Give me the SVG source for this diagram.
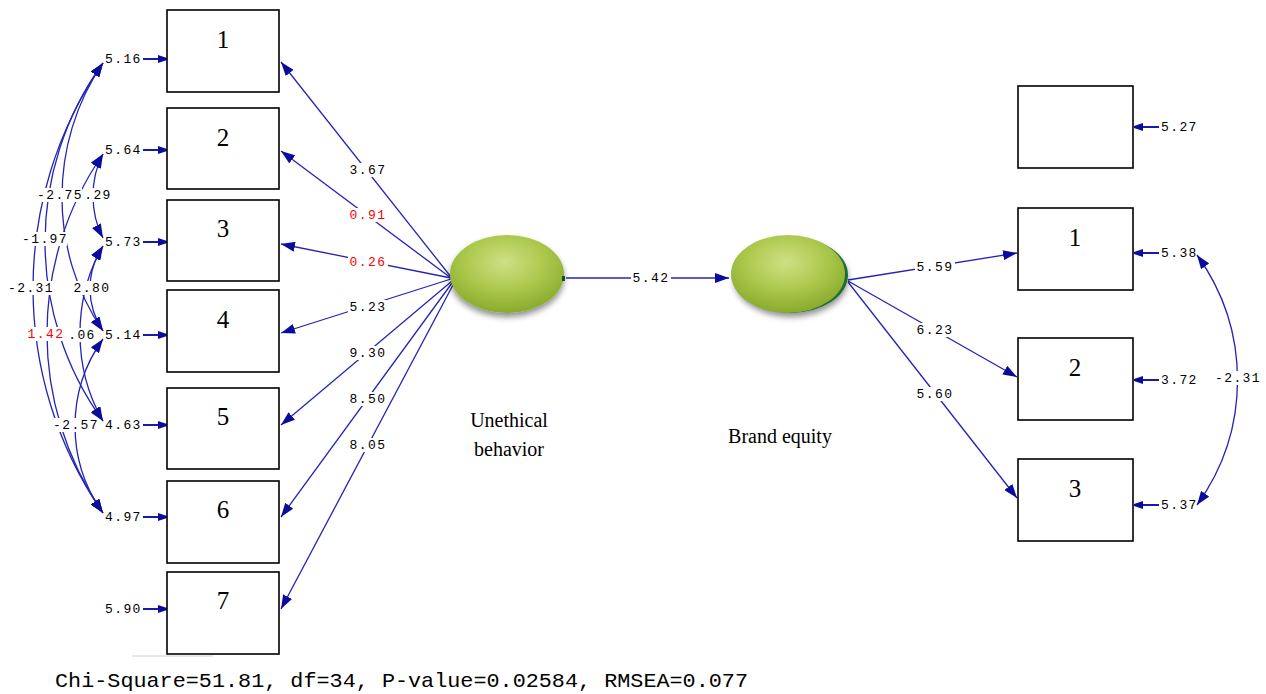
<svg xmlns="http://www.w3.org/2000/svg" width="1266" height="694" viewBox="0 0 1266 694">
<style>
.box{fill:#fff;stroke:#000;stroke-width:1.6}
.bn{font-family:"Liberation Serif","Times New Roman",serif;font-size:25px;fill:#000;text-anchor:middle}
.lat{font-family:"Liberation Serif","Times New Roman",serif;font-size:20px;fill:#000;text-anchor:middle}
.ln{fill:none;stroke:#2424b4;stroke-width:1.3}
.ea{fill:none;stroke:#1a1aa8;stroke-width:2}
.bg{fill:#fff}
.v{font-family:"Liberation Mono","DejaVu Sans Mono",monospace;font-size:13px;letter-spacing:1.4px;fill:#000;text-anchor:middle}
.r{fill:#ff0000}
.el{font-family:"Liberation Mono","DejaVu Sans Mono",monospace;font-size:13px;letter-spacing:1.4px;fill:#000}
.foot{font-family:"Liberation Mono","Courier New",monospace;font-size:21px;fill:#000}
</style>
<defs>
<marker id="ah" viewBox="0 0 14 10" refX="14" refY="5" markerWidth="14" markerHeight="10" markerUnits="userSpaceOnUse" orient="auto-start-reverse"><path d="M0,0 L14,5 L0,10 z" fill="#0b0b9c"/></marker>
<marker id="as" viewBox="0 0 9 8" refX="9" refY="4" markerWidth="9" markerHeight="8" markerUnits="userSpaceOnUse" orient="auto"><path d="M0,0 L9,3 L9,5 L0,8 z" fill="#0b0b9c"/></marker>
<radialGradient id="gl" cx="48%" cy="35%" r="65%">
<stop offset="0" stop-color="#cfe085"/>
<stop offset="0.55" stop-color="#abc84c"/>
<stop offset="1" stop-color="#89aa2c"/>
</radialGradient>
<filter id="sh" x="-20%" y="-20%" width="140%" height="150%">
<feGaussianBlur in="SourceAlpha" stdDeviation="3"/>
<feOffset dx="0" dy="4" result="b"/>
<feComponentTransfer><feFuncA type="linear" slope="0.45"/></feComponentTransfer>
<feMerge><feMergeNode/><feMergeNode in="SourceGraphic"/></feMerge>
</filter>
</defs>
<rect width="1266" height="694" fill="#fff"/>

<g id="connectors">
<!-- Unethical behavior to left indicators -->
<path class="ln" d="M451,277 L281,62" marker-end="url(#ah)"/>
<path class="ln" d="M451,278 L281,151" marker-end="url(#ah)"/>
<path class="ln" d="M451,278 L281,244" marker-end="url(#ah)"/>
<path class="ln" d="M451,279 L281,333" marker-end="url(#ah)"/>
<path class="ln" d="M452,281 L281,425" marker-end="url(#ah)"/>
<path class="ln" d="M452,283 L281,517" marker-end="url(#ah)"/>
<path class="ln" d="M453,285 L281,609" marker-end="url(#ah)"/>
<!-- structural path -->
<path class="ln" d="M566,278 L729,278" marker-end="url(#ah)"/>
<!-- Brand equity to right indicators -->
<path class="ln" d="M848,280 L1017,253" marker-end="url(#ah)"/>
<path class="ln" d="M848,281 L1017,377" marker-end="url(#ah)"/>
<path class="ln" d="M848,282 L1017,498" marker-end="url(#ah)"/>
<!-- left error arrows -->
<path class="ea" d="M143,59 L167,59" marker-end="url(#as)"/>
<path class="ea" d="M143,150 L167,150" marker-end="url(#as)"/>
<path class="ea" d="M143,242 L167,242" marker-end="url(#as)"/>
<path class="ea" d="M143,335 L167,335" marker-end="url(#as)"/>
<path class="ea" d="M143,425 L167,425" marker-end="url(#as)"/>
<path class="ea" d="M143,517 L167,517" marker-end="url(#as)"/>
<path class="ea" d="M143,609 L167,609" marker-end="url(#as)"/>
<!-- right error arrows -->
<path class="ea" d="M1159,127 L1134,127" marker-end="url(#as)"/>
<path class="ea" d="M1159,253 L1134,253" marker-end="url(#as)"/>
<path class="ea" d="M1159,380 L1134,380" marker-end="url(#as)"/>
<path class="ea" d="M1159,505 L1134,505" marker-end="url(#as)"/>
<!-- left error covariances -->
<path class="ln" d="M103,63 C48.3,143 48.3,251 103,331" marker-start="url(#ah)" marker-end="url(#ah)"/>
<path class="ln" d="M103,154 C89.7,179 89.7,213 103,238" marker-start="url(#ah)" marker-end="url(#ah)"/>
<path class="ln" d="M103,63 C25.7,170 25.7,314 103,421" marker-start="url(#ah)" marker-end="url(#ah)"/>
<path class="ln" d="M103,63 C9.7,198 9.7,378 103,513" marker-start="url(#ah)" marker-end="url(#ah)"/>
<path class="ln" d="M103,246 C85.7,272 85.7,305 103,331" marker-start="url(#ah)" marker-end="url(#ah)"/>
<path class="ln" d="M103,154 C28.3,262 28.3,405 103,513" marker-start="url(#ah)" marker-end="url(#ah)"/>
<path class="ln" d="M103,246 C72.3,299 72.3,368 103,421" marker-start="url(#ah)" marker-end="url(#ah)"/>
<path class="ln" d="M103,339 C65.7,391 65.7,461 103,513" marker-start="url(#ah)" marker-end="url(#ah)"/>
<!-- right error covariance -->
<path class="ln" d="M1197,255 C1251,330 1251,430 1197,505" marker-start="url(#ah)" marker-end="url(#ah)"/>

<!-- label gaps -->
<rect class="bg" x="348" y="163" width="40" height="14"/>
<rect class="bg" x="348" y="208" width="40" height="14"/>
<rect class="bg" x="348" y="255" width="40" height="14"/>
<rect class="bg" x="348" y="300" width="40" height="14"/>
<rect class="bg" x="348" y="346" width="40" height="14"/>
<rect class="bg" x="348" y="392" width="40" height="14"/>
<rect class="bg" x="348" y="438" width="40" height="14"/>
<rect class="bg" x="631" y="271" width="40" height="14"/>
<rect class="bg" x="915" y="260" width="40" height="14"/>
<rect class="bg" x="915" y="323" width="40" height="14"/>
<rect class="bg" x="915" y="387" width="40" height="14"/>
<rect class="bg" x="38" y="188" width="44" height="14"/>
<rect class="bg" x="86" y="188" width="24" height="14"/>
<rect class="bg" x="23" y="232" width="44" height="14"/>
<rect class="bg" x="9" y="281" width="44" height="14"/>
<rect class="bg" x="74" y="281" width="36" height="14"/>
<rect class="bg" x="28" y="327" width="36" height="14"/>
<rect class="bg" x="70" y="328" width="24" height="14"/>
<rect class="bg" x="54" y="418" width="44" height="14"/>
<rect class="bg" x="1216" y="371" width="44" height="14"/>

<!-- path labels -->
<text class="v" x="368" y="174">3.67</text>
<text class="v r" x="368" y="219">0.91</text>
<text class="v r" x="368" y="266">0.26</text>
<text class="v" x="368" y="311">5.23</text>
<text class="v" x="368" y="357">9.30</text>
<text class="v" x="368" y="403">8.50</text>
<text class="v" x="368" y="449">8.05</text>
<text class="v" x="651" y="282">5.42</text>
<text class="v" x="935" y="271">5.59</text>
<text class="v" x="935" y="334">6.23</text>
<text class="v" x="935" y="398">5.60</text>
<text class="v" x="60" y="199">-2.75</text>
<text class="v" x="98" y="199">.29</text>
<text class="v" x="45" y="243">-1.97</text>
<text class="v" x="31" y="292">-2.31</text>
<text class="v" x="92" y="292">2.80</text>
<text class="v r" x="46" y="338">1.42</text>
<text class="v" x="82" y="339">.06</text>
<text class="v" x="76" y="429">-2.57</text>
<text class="v" x="1238" y="382">-2.31</text>
</g>

<!-- error variances -->
<g id="errors">
<text class="el" x="105" y="63">5.16</text>
<text class="el" x="105" y="154">5.64</text>
<text class="el" x="105" y="246">5.73</text>
<text class="el" x="105" y="339">5.14</text>
<text class="el" x="105" y="429">4.63</text>
<text class="el" x="105" y="521">4.97</text>
<text class="el" x="105" y="613">5.90</text>
<text class="el" x="1161" y="131">5.27</text>
<text class="el" x="1161" y="257">5.38</text>
<text class="el" x="1161" y="384">3.72</text>
<text class="el" x="1161" y="509">5.37</text>
</g>

<g id="x1"><rect class="box" x="167" y="10" width="112" height="82"/><text class="bn" x="223" y="48">1</text></g>
<g id="x2"><rect class="box" x="167" y="108" width="112" height="81"/><text class="bn" x="223" y="146">2</text></g>
<g id="x3"><rect class="box" x="167" y="200" width="112" height="81"/><text class="bn" x="223" y="237">3</text></g>
<g id="x4"><rect class="box" x="167" y="290" width="112" height="82"/><text class="bn" x="223" y="328">4</text></g>
<g id="x5"><rect class="box" x="167" y="388" width="112" height="81"/><text class="bn" x="223" y="425">5</text></g>
<g id="x6"><rect class="box" x="167" y="481" width="112" height="82"/><text class="bn" x="223" y="518">6</text></g>
<g id="x7"><rect class="box" x="167" y="572" width="112" height="82"/><text class="bn" x="223" y="609">7</text></g>

<g id="y0"><rect class="box" x="1018" y="86" width="115" height="82"/></g>
<g id="y1"><rect class="box" x="1018" y="208" width="115" height="82"/><text class="bn" x="1075" y="246">1</text></g>
<g id="y2"><rect class="box" x="1018" y="338" width="115" height="82"/><text class="bn" x="1075" y="376">2</text></g>
<g id="y3"><rect class="box" x="1018" y="459" width="115" height="82"/><text class="bn" x="1075" y="497">3</text></g>

<g id="unethical">
<ellipse cx="507" cy="274" rx="57" ry="39" fill="url(#gl)" filter="url(#sh)"/>
<path d="M562,276 l3,0 l0,5 l-3,0 z" fill="#1d4d1d"/>
<text class="lat" x="509" y="427">Unethical</text>
<text class="lat" x="509" y="456">behavior</text>
</g>

<g id="brand">
<ellipse cx="791" cy="275" rx="57" ry="38" fill="#1f6e34" filter="url(#sh)"/>
<ellipse cx="788" cy="274" rx="57" ry="39" fill="url(#gl)"/>
<text class="lat" x="780" y="443">Brand equity</text>
</g>

<line x1="132" y1="656" x2="213" y2="656" stroke="#d0d0d0" stroke-width="1"/>
<text class="foot" x="55" y="687" textLength="693" lengthAdjust="spacingAndGlyphs">Chi-Square=51.81, df=34, P-value=0.02584, RMSEA=0.077</text>
</svg>
